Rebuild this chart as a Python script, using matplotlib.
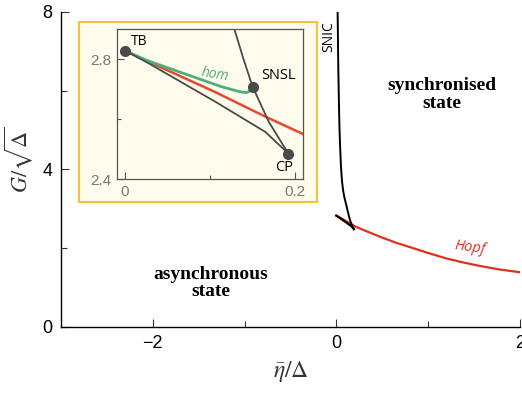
import matplotlib
matplotlib.use('Agg')
import matplotlib.pyplot as plt
import matplotlib.patches as mpatches
import numpy as np

matplotlib.rcParams['font.family'] = ['Liberation Sans', 'DejaVu Sans']
matplotlib.rcParams['mathtext.fontset'] = 'stix'

# ── data ───────────────────────────────────────────────────
# SNIC branch (black), from the top of the plot down to CP
snic_x = [0.014, 0.017, 0.019, 0.022, 0.026, 0.03, 0.035, 0.041, 0.05, 0.062, 0.075,
          0.09, 0.104, 0.127, 0.139, 0.150, 0.169, 0.192]
snic_y = [8.0, 7.5, 7.0, 6.5, 6.0, 5.5, 5.0, 4.6, 4.1, 3.7, 3.45,
          3.27, 3.14, 2.915, 2.803, 2.708, 2.591, 2.485]
# Hopf branch (red), from TB to the right
hopf_x = [0.0, 0.027, 0.106, 0.165, 0.21, 0.3, 0.478, 0.65, 0.84, 1.0, 1.2, 1.38, 1.565, 1.78, 2.0]
hopf_y = [2.828, 2.792, 2.69, 2.608, 2.549, 2.46, 2.29, 2.14, 2.0, 1.88, 1.74, 1.64, 1.55, 1.46, 1.39]
# black saddle-node line TB -> CP
sn_x = [0.0, 0.027, 0.106, 0.165, 0.192]
sn_y = [2.828, 2.787, 2.658, 2.557, 2.485]
# homoclinic (green) TB -> SNSL
hom_x = [0.0, 0.027, 0.074, 0.113, 0.135, 0.143, 0.148, 0.150]
hom_y = [2.828, 2.794, 2.747, 2.708, 2.691, 2.688, 2.695, 2.705]
# special points
pt_names = ['TB', 'SNSL', 'CP']
pt_x = [0.0, 0.150, 0.192]
pt_y = [2.828, 2.708, 2.485]

red = '#E0301E'
red_in = '#E8482C'
green = '#4DAF7C'
gray = '#4A4A4A'

fig = plt.figure(figsize=(5.22, 3.93), dpi=100)
fig.patch.set_facecolor('white')

# ── main diagram ───────────────────────────────────────────
ax = fig.add_axes([0.1169, 0.168, 0.879, 0.8015])
ax.plot(hopf_x, hopf_y, color=red, lw=1.6, zorder=2)
ax.plot(sn_x, sn_y, color='black', lw=1.6, zorder=3)
ax.plot(snic_x, snic_y, color='black', lw=1.4, zorder=3)

ax.set_xlim(-3, 2)
ax.set_ylim(0, 8)
ax.set_xticks([-2, 0, 2])
ax.set_xticklabels(['\u22122', '0', '2'])
ax.set_xticks([-1, 1], minor=True)
ax.set_yticks([0, 4, 8])
ax.set_yticks([2, 6], minor=True)
ax.tick_params(which='both', direction='in', labelsize=13, width=0.8, color='#333')
ax.tick_params(which='major', length=6, pad=6)
ax.tick_params(which='minor', length=4)
ax.spines[['top', 'right']].set_visible(False)
for s in ['left', 'bottom']:
    ax.spines[s].set_linewidth(1.0)
ax.set_xlabel(r'$\bar{\eta}/\Delta$', fontsize=17, labelpad=5, color='#333')
ax.set_ylabel(r'$G/\sqrt{\Delta}$', fontsize=16, color='#333')
ax.yaxis.set_label_coords(-0.057, 0.53)

ax.text(1.15, 5.9, 'synchronised\nstate', ha='center', va='center',
        family='Liberation Serif', fontweight='bold', fontsize=14, linespacing=1.05)
ax.text(-1.37, 1.12, 'asynchronous\nstate', ha='center', va='center',
        family='Liberation Serif', fontweight='bold', fontsize=14, linespacing=1.05)
ax.text(-0.08, 7.37, 'SNIC', rotation=90, ha='center', va='center',
        family='Open Sans', fontsize=10)
ax.text(1.46, 2.02, 'Hopf', rotation=-8, ha='center', va='center',
        family='Open Sans', style='italic', fontsize=10.5, color=red)

# ── inset (yellow framed) ──────────────────────────────────
box = mpatches.Rectangle((0.151, 0.486), 0.456, 0.458, transform=fig.transFigure,
                         facecolor='#FFFCEE', edgecolor='#F5C33B', linewidth=1.5,
                         zorder=5)
fig.patches.append(box)

axi = fig.add_axes([0.224, 0.5445, 0.356, 0.3817], zorder=6)
axi.set_facecolor('#FFFCEE')
axi.plot(hopf_x, hopf_y, color=red_in, lw=1.8, zorder=2)
axi.plot(hom_x, hom_y, color=green, lw=2.0, zorder=3, solid_capstyle='round')
axi.plot(sn_x, sn_y, color=gray, lw=1.3, zorder=3)
axi.plot(snic_x, snic_y, color=gray, lw=1.3, zorder=3)
axi.plot(pt_x, pt_y, 'o', color=gray, markersize=7, zorder=4)

axi.set_xlim(-0.0094, 0.209)
axi.set_ylim(2.4, 2.9)
axi.set_xticks([0, 0.2])
axi.set_xticklabels(['0', '0.2'])
axi.set_xticks([0.1], minor=True)
axi.set_yticks([2.4, 2.8])
axi.set_yticklabels(['2.4', '2.8'])
axi.set_yticks([2.6], minor=True)
axi.tick_params(which='both', direction='in', labelsize=11, labelcolor='#777',
                color='#555', width=0.8)
axi.tick_params(which='major', length=5, pad=4)
axi.tick_params(which='minor', length=3)
for s in axi.spines.values():
    s.set_color('#555')
    s.set_linewidth(0.9)

axi.text(0.0075, 2.858, pt_names[0], ha='left', va='center', family='Open Sans', fontsize=10)
axi.text(0.160, 2.745, pt_names[1], ha='left', va='center', family='Open Sans', fontsize=10.5)
axi.text(0.177, 2.438, pt_names[2], ha='left', va='center', family='Open Sans', fontsize=10.5)
axi.text(0.106, 2.748, 'hom', rotation=-9, ha='center', va='center',
         family='Open Sans', style='italic', fontsize=10, color=green)

plt.savefig('out.png', dpi=100)
